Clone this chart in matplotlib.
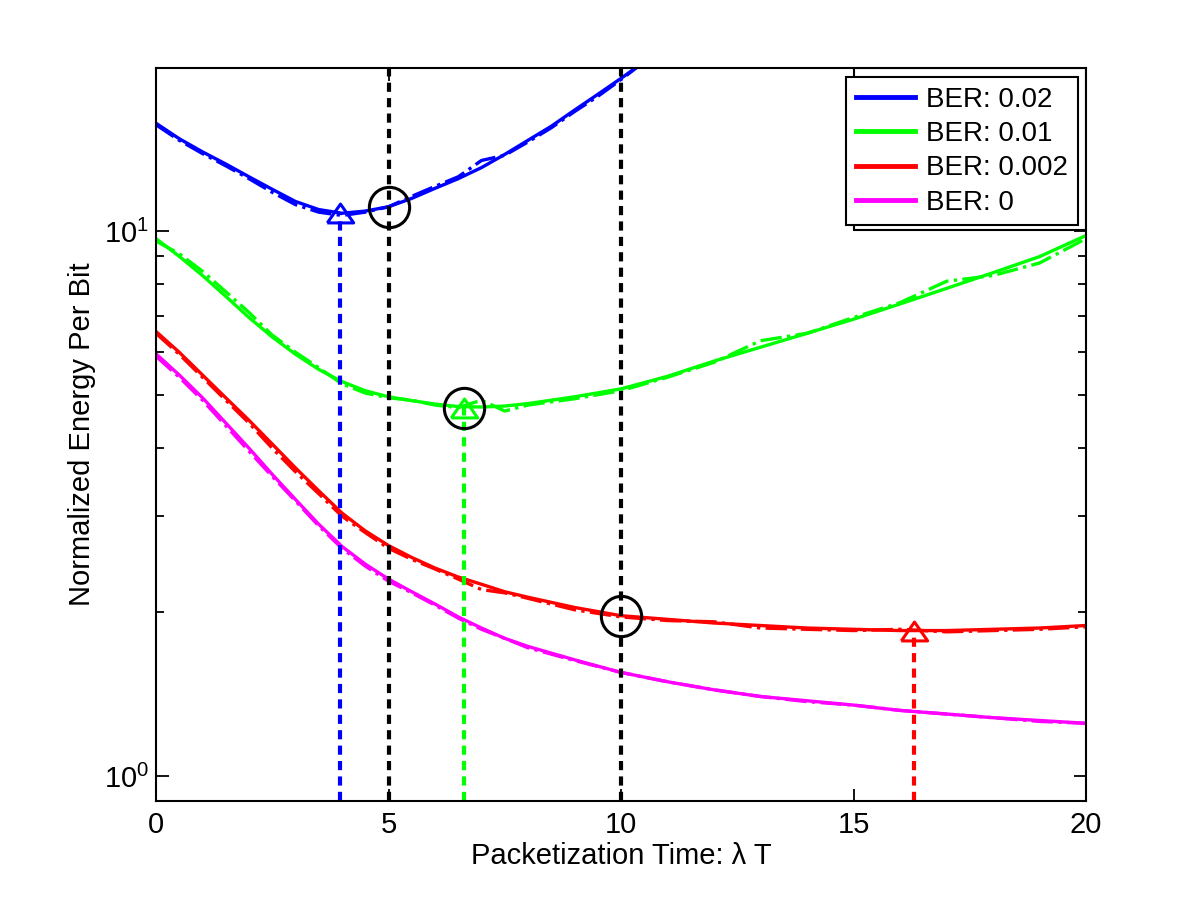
import numpy as np
import matplotlib
matplotlib.use('Agg')
import matplotlib.pyplot as plt
from matplotlib.patches import Rectangle
from matplotlib.ticker import LogLocator, NullFormatter

plt.rcParams['font.family'] = ['Liberation Sans', 'DejaVu Sans']
plt.rcParams['mathtext.default'] = 'regular'

# packetization time grids
x_blue = [0, 0.5, 1, 1.5, 2, 2.5, 3, 3.5, 4, 4.5, 5, 5.5, 6, 6.5, 7, 7.5,
          8, 8.5, 9, 9.5, 10, 10.5, 11]
x_all = [0, 0.5, 1, 1.5, 2, 2.5, 3, 3.5, 4, 4.5, 5, 5.5, 6, 6.5, 7, 7.5,
         8, 9, 10, 11, 12, 13, 14, 15, 16, 17, 18, 19, 20]

# analytical curves (solid)
ber_002 = [15.8, 14.8, 14.0, 13.3, 12.6, 11.95, 11.35, 10.97, 10.8, 10.9, 11.1, 11.5,
           12.0, 12.5, 13.1, 13.85, 14.7, 15.6, 16.7, 17.85, 19.1, 20.5, 22.0]
ber_001 = [9.7, 9.0, 8.3, 7.6, 6.95, 6.4, 5.95, 5.58, 5.3, 5.1, 4.97, 4.89, 4.82, 4.77,
           4.76, 4.78, 4.83, 4.97, 5.14, 5.42, 5.78, 6.13, 6.5, 6.9, 7.36, 7.86, 8.4, 8.99, 9.83]
ber_0002 = [6.55, 6.0, 5.45, 4.95, 4.5, 4.07, 3.68, 3.34, 3.04, 2.82, 2.65, 2.52, 2.41, 2.32,
            2.25, 2.18, 2.13, 2.04, 1.97, 1.94, 1.91, 1.89, 1.87, 1.86, 1.85, 1.85, 1.86, 1.87, 1.89]
ber_0 = [5.96, 5.45, 4.95, 4.45, 4.0, 3.58, 3.22, 2.9, 2.64, 2.45, 2.30, 2.18, 2.07, 1.96,
         1.87, 1.79, 1.73, 1.635, 1.55, 1.49, 1.44, 1.40, 1.375, 1.35, 1.32, 1.30, 1.28, 1.265, 1.25]

# simulated curves (dash-dot), slightly ragged
sim_002 = [15.7, 14.7, 13.9, 13.2, 12.5, 11.8, 11.2, 10.85, 10.7, 10.85, 11.1, 11.6,
           12.1, 12.6, 13.5, 13.8, 14.6, 15.5, 16.6, 17.7, 19.0, 20.5, 22.0]
sim_001 = [9.6, 9.1, 8.45, 7.75, 7.1, 6.45, 6.0, 5.62, 5.25, 5.05, 4.95, 4.9, 4.8, 4.75,
           4.9, 4.68, 4.8, 4.93, 5.1, 5.4, 5.75, 6.3, 6.5, 6.95, 7.4, 8.1, 8.3, 8.75, 9.7]
sim_0002 = [6.5, 5.95, 5.4, 4.9, 4.45, 4.0, 3.62, 3.3, 3.0, 2.8, 2.62, 2.5, 2.4, 2.3,
            2.2, 2.17, 2.12, 2.02, 1.96, 1.93, 1.92, 1.87, 1.86, 1.85, 1.86, 1.84, 1.85, 1.86, 1.88]
sim_0 = [5.9, 5.4, 4.9, 4.4, 3.95, 3.55, 3.2, 2.88, 2.62, 2.43, 2.28, 2.17, 2.06, 1.95,
         1.86, 1.79, 1.72, 1.63, 1.55, 1.49, 1.44, 1.40, 1.37, 1.35, 1.32, 1.30, 1.28, 1.26, 1.25]

labels = ['BER: 0.02', 'BER: 0.01', 'BER: 0.002', 'BER: 0']
colors = ['#0000ff', '#00ff00', '#ff0000', '#ff00ff']

# optimum points (triangles) and operating points (circles)
opt_x = [3.95, 6.62, 16.3]
opt_y = [10.8, 4.75, 1.85]
opt_col = ['#0000ff', '#00ff00', '#ff0000']
circ_x = [5, 6.62, 10]
circ_y = [11.1, 4.75, 1.97]
fixed_T = [5, 10]

ymin, ymax = 0.9, 20

fig = plt.figure(figsize=(12, 9), dpi=100)
ax = fig.add_axes([0.13, 0.11, 0.775, 0.815])
ax.set_yscale('log')

series = [(x_blue, ber_002, sim_002), (x_all, ber_001, sim_001),
          (x_all, ber_0002, sim_0002), (x_all, ber_0, sim_0)]
for (xs, ys, ss), c, lab in zip(series, colors, labels):
    ax.plot(xs, ss, linestyle='-.', color=c, lw=2.4)
    ax.plot(xs, ys, '-', color=c, lw=2.4, label=lab)

tri = [(-1.4, -1), (1.4, -1), (0, 1), (-1.4, -1)]
dash = (0, (2.2, 1.5))
for xv in fixed_T:
    ax.plot([xv, xv], [ymin, ymax], color='k', lw=3, linestyle=dash)
for xv, yv, c in zip(opt_x, opt_y, opt_col):
    ax.plot([xv, xv], [ymin, yv], color=c, lw=3, linestyle=dash)
    ax.plot(xv, yv, marker=tri, mfc='none', mec=c, ms=19, mew=2.2)
ax.plot(circ_x, circ_y, 'o', mfc='none', mec='k', ms=29, mew=2.2, linestyle='none')

ax.set_xlim(0, 20)
ax.set_ylim(ymin, ymax)
ax.set_xticks([0, 5, 10, 15, 20])
ax.yaxis.set_major_locator(LogLocator(base=10, numticks=5))
ax.yaxis.set_minor_locator(LogLocator(base=10, subs=np.arange(2, 10), numticks=20))
ax.yaxis.set_minor_formatter(NullFormatter())
ax.tick_params(which='both', direction='in', top=True, right=True, labelsize=21, width=1.3)
ax.tick_params(which='major', length=9)
ax.tick_params(axis='x', pad=7)
ax.tick_params(axis='y', pad=5)
ax.tick_params(which='minor', length=6)
for s in ax.spines.values():
    s.set_linewidth(1.5)

ax.set_xlabel('Packetization Time: λ T', fontsize=21, labelpad=2)
ax.set_ylabel('Normalized Energy Per Bit', fontsize=21, labelpad=6)

# second box behind the legend
ax.add_patch(Rectangle((0.7505, 0.778), 0.2495, 0.222, transform=ax.transAxes,
                       fill=False, ec='k', lw=1.5, zorder=4))
leg = ax.legend(loc='upper right', bbox_to_anchor=(0.9914, 0.987), borderaxespad=0,
                fontsize=20, frameon=True, fancybox=False, edgecolor='k', framealpha=1,
                handlelength=2.15, handletextpad=0.4, borderpad=0.35, labelspacing=0.3)
leg.get_frame().set_linewidth(1.5)
leg.set_zorder(5)
for h in leg.get_lines():
    h.set_linewidth(3.5)

fig.savefig('out.png', dpi=100)
